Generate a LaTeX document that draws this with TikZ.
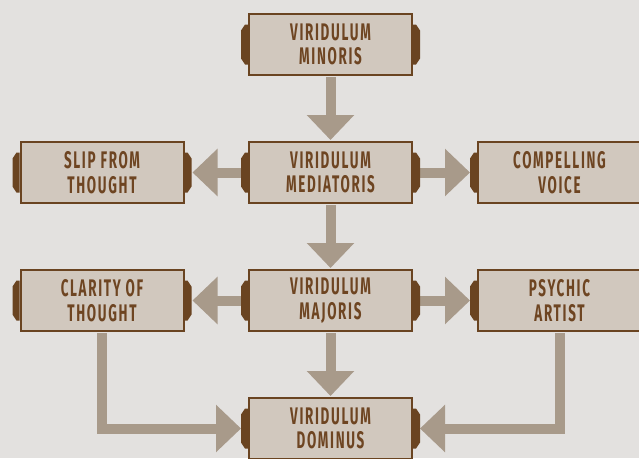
\documentclass[tikz,border=0pt]{standalone}
\usepackage{fontspec}
\usepackage{xcolor}
\usepackage{tikz}
\usetikzlibrary{arrows.meta,calc}
\newfontfamily\rankfont[FakeStretch=0.56,LetterSpace=7]{Fira Sans}

\definecolor{paper}{HTML}{E3E1DF}
\definecolor{boxfill}{HTML}{D1C8BE}
\definecolor{tabbrown}{HTML}{6A4421}
\definecolor{textbrown}{HTML}{6E4522}
\definecolor{arrowtan}{HTML}{A89A8A}

\tikzset{
  rank/.style={draw=tabbrown, line width=2pt, fill=boxfill, minimum width=163pt,
    minimum height=61pt, inner sep=0pt, align=center, text=textbrown,
    font=\rankfont\bfseries\fontsize{24}{24.7}\selectfont},
  flow/.style={draw=arrowtan, line width=10pt, line join=miter,
    -{Triangle[width=46pt,length=25pt]}}
}

% brown tabs on both sides of a box
\newcommand\sidetabs[1]{%
  \fill[tabbrown] (#1.west) ++(0,-20) -- ++(-3,0) -- ++(-4,6) -- ++(0,28) -- ++(4,6) -- ++(3,0) -- cycle;
  \fill[tabbrown] (#1.east) ++(0,-20) -- ++(3,0) -- ++(4,6) -- ++(0,28) -- ++(-4,6) -- ++(-3,0) -- cycle;}

\begin{document}
\begin{tikzpicture}[x=1pt,y=-1pt]
    \useasboundingbox (0,0) rectangle (639,458);
    \clip (0,0) rectangle (639,458);
    \fill[paper] (0,0) rectangle (639,458);

    % middle column
    \node[rank] (minoris) at (330.5,44.5) {VIRIDULUM\\MINORIS};
    \node[rank] (mediatoris) at (330.5,172.5) {VIRIDULUM\\MEDIATORIS};
    \node[rank] (majoris) at (330.5,300.5) {VIRIDULUM\\MAJORIS};
    \node[rank] (dominus) at (330.5,428.5) {VIRIDULUM\\DOMINUS};

    % side boxes
    \node[rank] (slip) at (102,172.5) {SLIP FROM\\THOUGHT};
    \node[rank] (voice) at (559.5,172.5) {COMPELLING\\VOICE};
    \node[rank] (clarity) at (102,300.5) {CLARITY OF\\THOUGHT};
    \node[rank] (artist) at (559.5,300.5) {PSYCHIC\\ARTIST};

    % arrows
    \draw[flow, shorten <=1pt, shorten >=1pt] (minoris.south) -- (mediatoris.north);
    \draw[flow, shorten <=1pt, shorten >=1pt] (mediatoris.south) -- (majoris.north);
    \draw[flow, shorten <=1pt, shorten >=1pt] (majoris.south) -- (dominus.north);
    \draw[flow, shorten >=8pt] (mediatoris.west) -- (slip.east);
    \draw[flow, shorten >=7pt] (mediatoris.east) -- (voice.west);
    \draw[flow, shorten >=8pt] (majoris.west) -- (clarity.east);
    \draw[flow, shorten >=7pt] (majoris.east) -- (artist.west);
    \draw[flow, shorten <=1pt, shorten >=7pt] (clarity.south) |- (dominus.west);
    \draw[flow, shorten <=1pt, shorten >=7pt] (artist.south) |- (dominus.east);

    % tabs
    \foreach \b in {minoris,mediatoris,majoris,dominus,slip,voice,clarity,artist}
        {\sidetabs{\b}}
\end{tikzpicture}
\end{document}
